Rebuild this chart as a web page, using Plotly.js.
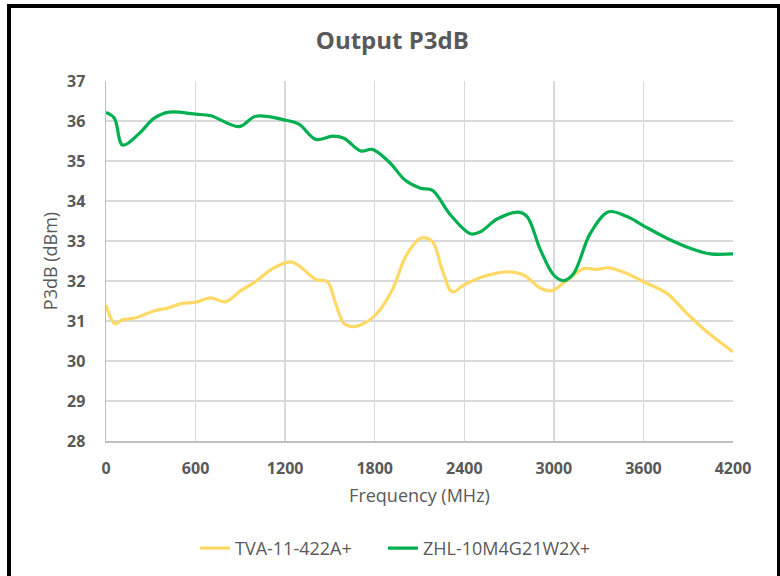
<!DOCTYPE html>
<html>
<head>
<meta charset="utf-8">
<script src="https://cdn.plot.ly/plotly-3.0.1.min.js"></script>
<style>
  html, body { margin: 0; padding: 0; background: #fff; }
  #wrap { position: relative; width: 780px; height: 576px; overflow: hidden; }
  #chart { position: absolute; left: 0; top: 0; width: 780px; height: 576px; }
  #frame { position: absolute; left: 7px; top: 4px; width: 766px; height: 600px;
           border: 4px solid #000; pointer-events: none; box-sizing: content-box; }
</style>
</head>
<body>
<div id="wrap">
  <div id="chart"></div>
  <div id="frame"></div>
</div>
<script>
// Series names
const seriesNames = ["TVA-11-422A+", "ZHL-10M4G21W2X+"];

// TVA-11-422A+ (yellow) — frequency (MHz) and P3dB (dBm)
const tvaFreq = [0, 60, 110, 200, 320, 410, 510, 600, 700, 800, 900, 1000, 1115, 1237, 1300, 1405, 1483, 1538, 1594, 1650, 1717, 1806, 1918, 2007, 2107, 2185, 2252, 2319, 2397, 2508, 2687, 2798, 2910, 2988, 3088, 3199, 3289, 3367, 3490, 3601, 3757, 3891, 4025, 4200];
const tvaP3dB = [31.4, 30.93, 31.03, 31.08, 31.25, 31.32, 31.44, 31.47, 31.58, 31.48, 31.75, 31.98, 32.31, 32.48, 32.36, 32.04, 31.98, 31.44, 30.94, 30.86, 30.92, 31.15, 31.78, 32.61, 33.07, 32.99, 32.28, 31.73, 31.9, 32.09, 32.23, 32.15, 31.82, 31.76, 32.02, 32.31, 32.29, 32.33, 32.19, 31.98, 31.69, 31.19, 30.73, 30.23];

// ZHL-10M4G21W2X+ (green)
const zhlFreq = [0, 56, 111, 223, 323, 424, 602, 702, 892, 1003, 1204, 1293, 1405, 1516, 1594, 1706, 1784, 1895, 2007, 2107, 2185, 2308, 2441, 2508, 2620, 2765, 2821, 2910, 2999, 3066, 3133, 3244, 3367, 3490, 3601, 3757, 3913, 4047, 4200];
const zhlP3dB = [36.21, 36.07, 35.4, 35.69, 36.07, 36.22, 36.17, 36.13, 35.86, 36.12, 36.02, 35.92, 35.54, 35.62, 35.57, 35.25, 35.29, 34.98, 34.51, 34.32, 34.27, 33.65, 33.18, 33.23, 33.55, 33.72, 33.61, 32.78, 32.15, 32.01, 32.19, 33.19, 33.73, 33.61, 33.38, 33.07, 32.82, 32.68, 32.68];

// Axis ticks
const xTicks = [0, 600, 1200, 1800, 2400, 3000, 3600, 4200];
const yTicks = [28, 29, 30, 31, 32, 33, 34, 35, 36, 37];

const textGray = "#595959";
const font = "Open Sans, Noto Sans, sans-serif";

const traces = [
  { x: tvaFreq, y: tvaP3dB, name: seriesNames[0], type: "scatter", mode: "lines",
    legend: "legend",
    line: { color: "#FFD966", width: 3.2, shape: "spline", smoothing: 1 } },
  { x: zhlFreq, y: zhlP3dB, name: seriesNames[1], type: "scatter", mode: "lines",
    legend: "legend2",
    line: { color: "#00B050", width: 3.2, shape: "spline", smoothing: 1 } }
];

const legendFont = { family: font, size: 18, color: textGray };

const layout = {
  width: 780, height: 576,
  margin: { l: 106, r: 47, t: 81, b: 135 },
  paper_bgcolor: "#fff", plot_bgcolor: "#fff",
  font: { family: font, color: textGray },
  title: { text: "Output P3dB", x: 0.503, xref: "container", xanchor: "center",
           y: 0.93, yref: "container", yanchor: "middle",
           font: { family: font, size: 24, color: textGray, weight: 700 } },
  xaxis: {
    range: [0, 4200], tickvals: xTicks, ticktext: xTicks.map(String),
    showgrid: true, gridcolor: "#D9D9D9", gridwidth: 1.5,
    showline: true, linecolor: "#BFBFBF", linewidth: 1.5, zeroline: false,
    ticks: "", ticklabelstandoff: 12,
    tickfont: { family: font, size: 16, color: textGray, weight: 700 },
    title: { text: "Frequency (MHz)", standoff: 11,
             font: { family: font, size: 18, color: textGray } }
  },
  yaxis: {
    range: [28, 37], tickvals: yTicks, ticktext: yTicks.map(String),
    showgrid: true, gridcolor: "#D9D9D9", gridwidth: 1.5,
    showline: true, linecolor: "#BFBFBF", linewidth: 1.5, zeroline: false,
    ticks: "", ticklabelstandoff: 16,
    tickfont: { family: font, size: 16, color: textGray, weight: 700 },
    title: { text: "P3dB (dBm)", standoff: 4,
             font: { family: font, size: 18, color: textGray } }
  },
  showlegend: true,
  legend: { orientation: "h", x: 0.25, xref: "container", xanchor: "left",
            y: 0.048, yref: "container", yanchor: "middle", font: legendFont },
  legend2: { orientation: "h", x: 0.491, xref: "container", xanchor: "left",
            y: 0.048, yref: "container", yanchor: "middle", font: legendFont }
};

Plotly.newPlot("chart", traces, layout, { displayModeBar: false, staticPlot: true });
</script>
</body>
</html>
